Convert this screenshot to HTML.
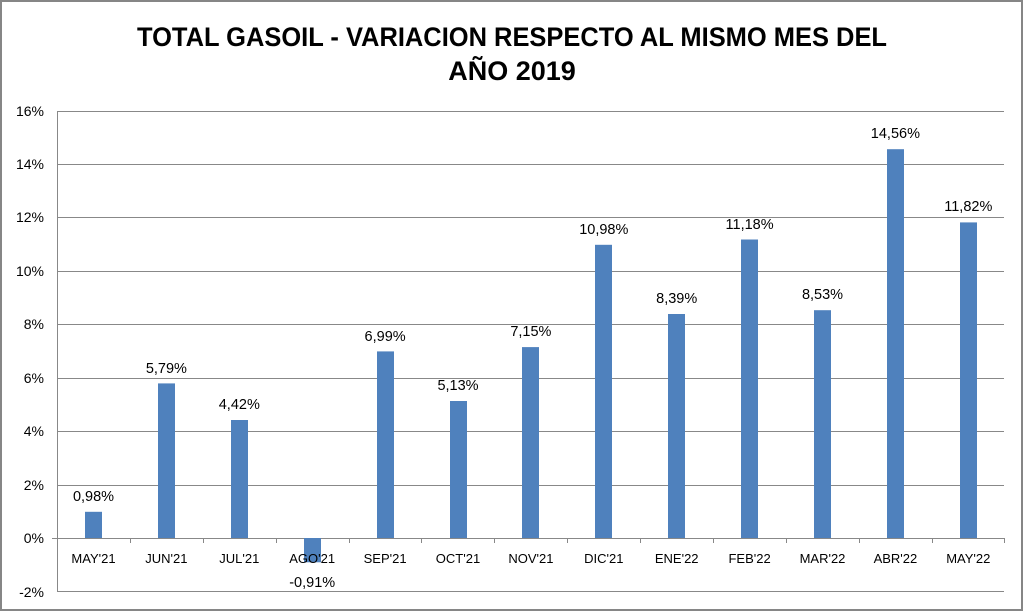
<!DOCTYPE html>
<html><head><meta charset="utf-8"><style>
html,body{margin:0;padding:0;background:#fff;}
svg{display:block;font-family:"Liberation Sans",sans-serif;}
</style></head><body>
<svg width="1024" height="612" viewBox="0 0 1024 612" xmlns="http://www.w3.org/2000/svg">
<rect x="1" y="1" width="1021" height="609" fill="#fff" stroke="#868686" stroke-width="2"/>
<text x="512" y="46" text-anchor="middle" font-size="27" font-weight="bold" fill="#000" textLength="750" lengthAdjust="spacingAndGlyphs">TOTAL GASOIL - VARIACION RESPECTO AL MISMO MES DEL</text>
<text x="512" y="80" text-anchor="middle" font-size="27" font-weight="bold" fill="#000">AÑO 2019</text>
<g stroke="#888" stroke-width="1">
<line x1="57" y1="111.5" x2="1004" y2="111.5"/>
<line x1="57" y1="164.5" x2="1004" y2="164.5"/>
<line x1="57" y1="217.5" x2="1004" y2="217.5"/>
<line x1="57" y1="271.5" x2="1004" y2="271.5"/>
<line x1="57" y1="324.5" x2="1004" y2="324.5"/>
<line x1="57" y1="378.5" x2="1004" y2="378.5"/>
<line x1="57" y1="431.5" x2="1004" y2="431.5"/>
<line x1="57" y1="485.5" x2="1004" y2="485.5"/>
<line x1="57" y1="591.5" x2="1004" y2="591.5"/>
<line x1="57.5" y1="111" x2="57.5" y2="592"/>
<line x1="52" y1="538.5" x2="1004" y2="538.5"/>
</g>
<g stroke="#888" stroke-width="1">
<line x1="130.5" y1="538" x2="130.5" y2="543"/><line x1="203.5" y1="538" x2="203.5" y2="543"/>
<line x1="276.5" y1="538" x2="276.5" y2="543"/><line x1="349.5" y1="538" x2="349.5" y2="543"/>
<line x1="421.5" y1="538" x2="421.5" y2="543"/><line x1="494.5" y1="538" x2="494.5" y2="543"/>
<line x1="567.5" y1="538" x2="567.5" y2="543"/><line x1="640.5" y1="538" x2="640.5" y2="543"/>
<line x1="713.5" y1="538" x2="713.5" y2="543"/><line x1="786.5" y1="538" x2="786.5" y2="543"/>
<line x1="859.5" y1="538" x2="859.5" y2="543"/><line x1="932.5" y1="538" x2="932.5" y2="543"/>
<line x1="1004.5" y1="538" x2="1004.5" y2="543"/>
</g>
<g font-size="14" fill="#000" text-anchor="end">
<text x="44" y="116">16%</text><text x="44" y="169">14%</text><text x="44" y="222">12%</text>
<text x="44" y="276">10%</text><text x="44" y="329">8%</text><text x="44" y="383">6%</text>
<text x="44" y="436">4%</text><text x="44" y="490">2%</text><text x="44" y="543">0%</text>
<text x="44" y="597">-2%</text>
</g>
<g fill="#4f81bd">
<rect x="85" y="511.8" width="17" height="26.2"/>
<rect x="158" y="383.4" width="17" height="154.6"/>
<rect x="231" y="420" width="17" height="118"/>
<rect x="304" y="538" width="17" height="24.3"/>
<rect x="377" y="351.4" width="17" height="186.6"/>
<rect x="450" y="401" width="17" height="137"/>
<rect x="522" y="347.1" width="17" height="190.9"/>
<rect x="595" y="244.8" width="17" height="293.2"/>
<rect x="668" y="314" width="17" height="224"/>
<rect x="741" y="239.5" width="17" height="298.5"/>
<rect x="814" y="310.2" width="17" height="227.8"/>
<rect x="887" y="149.2" width="17" height="388.8"/>
<rect x="960" y="222.4" width="17" height="315.6"/>
</g>
<g font-size="13" fill="#000" text-anchor="middle">
<text x="93.5" y="563">MAY'21</text><text x="166.4" y="563">JUN'21</text><text x="239.3" y="563">JUL'21</text>
<text x="312.2" y="563">AGO'21</text><text x="385.1" y="563">SEP'21</text><text x="458" y="563">OCT'21</text>
<text x="530.9" y="563">NOV'21</text><text x="603.8" y="563">DIC'21</text><text x="676.7" y="563">ENE'22</text>
<text x="749.6" y="563">FEB'22</text><text x="822.5" y="563">MAR'22</text><text x="895.4" y="563">ABR'22</text>
<text x="968.3" y="563">MAY'22</text>
</g>
<g font-size="14.5" fill="#000" text-anchor="middle">
<text x="93.5" y="501">0,98%</text>
<text x="166.4" y="373">5,79%</text>
<text x="239.3" y="409">4,42%</text>
<text x="312.2" y="587">-0,91%</text>
<text x="385.1" y="341">6,99%</text>
<text x="458" y="390">5,13%</text>
<text x="530.9" y="336">7,15%</text>
<text x="603.8" y="234">10,98%</text>
<text x="676.7" y="303">8,39%</text>
<text x="749.6" y="229">11,18%</text>
<text x="822.5" y="299">8,53%</text>
<text x="895.4" y="138">14,56%</text>
<text x="968.3" y="211">11,82%</text>
</g>
</svg>
</body></html>
